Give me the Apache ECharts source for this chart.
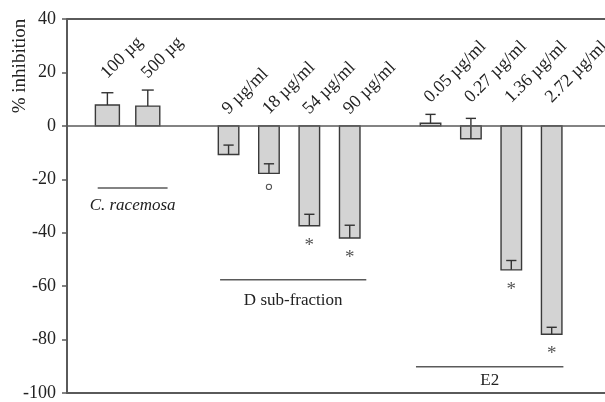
<!DOCTYPE html>
<html>
<head>
<meta charset="utf-8">
<script src="https://cdn.jsdelivr.net/npm/echarts@6/dist/echarts.min.js"></script>
<style>
  html, body { margin: 0; padding: 0; background: #fff; }
  #chart { width: 605px; height: 402px; }
</style>
</head>
<body>
<div id="chart"></div>
<script>
// Treatment doses, mean % inhibition and standard error (drawn upward from the mean)
const doses = ['100 µg', '500 µg', '9 µg/ml', '18 µg/ml', '54 µg/ml', '90 µg/ml',
               '0.05 µg/ml', '0.27 µg/ml', '1.36 µg/ml', '2.72 µg/ml'];
const inhibition = [7.8, 7.4, -10.7, -17.8, -37.4, -42.0, 1.0, -4.8, -53.9, -78.0];
const stdError = [4.6, 6.0, 3.5, 3.6, 4.3, 4.8, 3.3, 7.6, 3.5, 2.6];
// Which treatment group each dose belongs to
const groupOf = [0, 0, 1, 1, 1, 1, 2, 2, 2, 2];
const groupNames = ['C. racemosa', 'D sub-fraction', 'E2'];
// Significance markers shown below the bars
const significance = ['', '', '', 'o', '*', '*', '', '', '*', '*'];
// Y axis range
const yMin = -100, yMax = 40, yStep = 20;

// ---- layout / style ----
const FONT = '"Liberation Serif", "Times New Roman", serif';
const LINE = '#5a5a5a';
const INK = '#222';
const barWidth = [24, 20.5, 20.5];
const groupItalic = [true, false, false];
const bracket = [
  { from: 0.76, to: 2.49, y: -23.3, dy: 17 },
  { from: 3.79, to: 7.41, y: -57.6, dy: 21 },
  { from: 8.64, to: 12.29, y: -90.2, dy: 14 }
];

// one empty slot before each group
const slot = doses.map((d, i) => i + groupOf[i] + 1);
const groupTop = groupNames.map((g, gi) => {
  let t = 0;
  inhibition.forEach((v, i) => { if (groupOf[i] === gi) t = Math.max(t, v + stdError[i]); });
  return t;
});

const barData = doses.map((d, i) => [slot[i], inhibition[i], stdError[i]]);

function renderBar(params, api) {
  const i = params.dataIndex;
  const x = api.value(0), v = api.value(1), se = api.value(2);
  const g = groupOf[i];
  const w = barWidth[g];
  const base = api.coord([x, 0]);
  const end = api.coord([x, v]);
  const err = api.coord([x, v + se]);
  const top = api.coord([x, groupTop[g]]);
  const cx = base[0];
  const kids = [
    { type: 'rect',
      shape: { x: cx - w / 2, y: Math.min(base[1], end[1]), width: w, height: Math.abs(end[1] - base[1]) },
      style: { fill: '#d3d3d3', stroke: '#3a3a3a', lineWidth: 1.4 } },
    { type: 'line', shape: { x1: cx, y1: end[1], x2: cx, y2: err[1] },
      style: { stroke: '#333', lineWidth: 1.4 } },
    { type: 'line', shape: { x1: cx - w / 4, y1: err[1], x2: cx + w / 4, y2: err[1] },
      style: { stroke: '#333', lineWidth: 1.4 } },
    { type: 'text', x: cx + 3, y: top[1] - 8, rotation: Math.PI / 4,
      style: { text: doses[i], font: '18px ' + FONT, fill: INK, align: 'left', verticalAlign: 'bottom' } }
  ];
  const s = significance[i];
  if (s === 'o') {
    kids.push({ type: 'circle', shape: { cx: cx, cy: end[1] + 13.5, r: 2.6 },
      style: { fill: 'none', stroke: '#555', lineWidth: 1.1 } });
  } else if (s) {
    kids.push({ type: 'text', x: cx, y: end[1] + 20,
      style: { text: s, font: '19px ' + FONT, fill: '#555', align: 'center', verticalAlign: 'middle' } });
  }
  return { type: 'group', children: kids };
}

function renderBracket(params, api) {
  const g = params.dataIndex;
  const b = bracket[g];
  const p1 = api.coord([b.from, b.y]);
  const p2 = api.coord([b.to, b.y]);
  return {
    type: 'group',
    children: [
      { type: 'line', shape: { x1: p1[0], y1: p1[1], x2: p2[0], y2: p2[1] },
        style: { stroke: LINE, lineWidth: 1.5 } },
      { type: 'text', x: (p1[0] + p2[0]) / 2, y: p1[1] + b.dy,
        style: { text: groupNames[g], font: (groupItalic[g] ? 'italic ' : '') + '17px ' + FONT,
                 fill: INK, align: 'center', verticalAlign: 'middle' } }
    ]
  };
}

const chart = echarts.init(document.getElementById('chart'), null, { renderer: 'canvas' });
chart.setOption({
  animation: false,
  backgroundColor: '#fff',
  grid: { left: 67, right: 0, top: 19, bottom: 6 },
  xAxis: {
    type: 'value', min: 0, max: 13.32,
    axisLine: { show: true, onZero: false, lineStyle: { color: LINE, width: 2 } },
    axisTick: { show: false }, axisLabel: { show: false }, splitLine: { show: false }
  },
  yAxis: {
    type: 'value', min: yMin, max: yMax, interval: yStep,
    axisLine: { show: true, lineStyle: { color: LINE, width: 2 } },
    axisTick: { show: true, inside: false, length: 5, lineStyle: { color: LINE, width: 1.5 } },
    axisLabel: { margin: 11, color: INK, fontFamily: FONT, fontSize: 18 },
    splitLine: { show: false }
  },
  graphic: [
    { type: 'text', x: 20, y: 66, rotation: Math.PI / 2,
      style: { text: '% inhibition', font: '19px ' + FONT, fill: INK, align: 'center', verticalAlign: 'middle' } }
  ],
  series: [
    {
      type: 'custom', renderItem: renderBar, data: barData, clip: false,
      encode: { x: 0, y: 1 },
      markLine: {
        silent: true, symbol: 'none', label: { show: false },
        lineStyle: { color: LINE, width: 1.5, type: 'solid' },
        data: [{ yAxis: 0 }, { yAxis: yMax, lineStyle: { width: 2 } }]
      }
    },
    {
      type: 'custom', renderItem: renderBracket, clip: false,
      data: groupNames.map((n, i) => [bracket[i].from, bracket[i].y])
    }
  ]
});
</script>
</body>
</html>
